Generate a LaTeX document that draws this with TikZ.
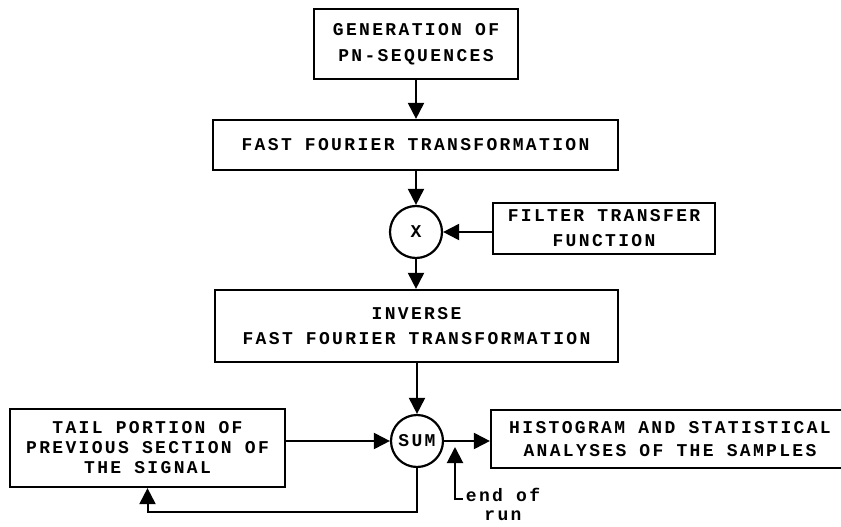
\documentclass[tikz,border=0pt]{standalone}
\usepackage{fontspec}
\usetikzlibrary{arrows.meta,calc}
\newfontfamily\twfont[LetterSpace=13]{Liberation Mono}
\tikzset{
  box/.style={draw, line width=2.2pt, inner sep=0pt, align=center,
    font=\twfont\bfseries\fontsize{18}{25}\selectfont},
  opcircle/.style={draw, circle, line width=2.2pt, inner sep=0pt, minimum size=52pt,
    font=\twfont\bfseries\fontsize{18}{25}\selectfont},
  arr/.style={line width=2pt, -{Triangle[length=16pt,width=16pt]}},
  lbl/.style={inner sep=0pt, align=center, font=\twfont\bfseries\fontsize{18}{19}\selectfont}
}
\begin{document}
\begin{tikzpicture}[x=1pt,y=-1pt]
\useasboundingbox (0,0) rectangle (841,527);
\clip (0,0) rectangle (841,527);
\node[box, minimum width=204pt, minimum height=70pt, font=\twfont\bfseries\fontsize{18}{26}\selectfont] (gen) at (416,44) {GENERATION OF\\PN-SEQUENCES};
\node[box, minimum width=405pt, minimum height=50pt] (fft) at (415.5,145) {FAST FOURIER TRANSFORMATION};
\node[opcircle] (mult) at (416,232) {X};
\node[box, minimum width=222pt, minimum height=51pt] (filt) at (604,228.5) {FILTER TRANSFER\\FUNCTION};
\node[box, minimum width=403pt, minimum height=72pt] (ifft) at (416.5,326) {INVERSE\\FAST FOURIER TRANSFORMATION};
\node[opcircle] (sum) at (417,441) {SUM};
\node[box, minimum width=275pt, minimum height=78pt, font=\twfont\bfseries\fontsize{18}{20}\selectfont] (tail) at (147.5,448) {TAIL PORTION OF\\PREVIOUS SECTION OF\\THE SIGNAL};
\node[box, minimum width=358pt, minimum height=58pt, font=\twfont\bfseries\fontsize{18}{23}\selectfont] (hist) at (670,439) {HISTOGRAM AND STATISTICAL\\ANALYSES OF THE SAMPLES};
\node[lbl] (eorl) at (503,504) {end of\\run};
\coordinate (eorfoot) at (463,499);
\coordinate (eortip) at (455,447);
\coordinate (fbcorner) at (417,512);
\draw[arr] (gen.south) -- (gen.south |- fft.north);
\draw[arr] (mult.north |- fft.south) -- (mult.north);
\draw[arr] (filt.west |- mult.east) -- (mult.east);
\draw[arr] (mult.south) -- (mult.south |- ifft.north);
\draw[arr] (sum.north |- ifft.south) -- (sum.north);
\draw[arr] (tail.east |- sum.west) -- (sum.west);
\draw[arr] (sum.east) -- (sum.east -| hist.west);
\draw[arr] (sum.south) -- (fbcorner) -| (tail.south);
\draw[arr] (eorfoot) -| (eortip);
\end{tikzpicture}
\end{document}
